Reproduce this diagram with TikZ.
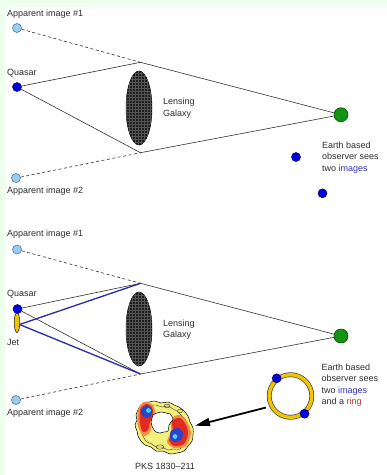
\documentclass[tikz,border=0pt]{standalone}
\usepackage{fontspec}
\setmainfont{Liberation Sans}
\usetikzlibrary{shapes.geometric,patterns,arrows.meta}

\definecolor{bgstrip}{HTML}{EEFFEE}
\definecolor{txt}{HTML}{2E2E2E}
\definecolor{skyfill}{HTML}{9CCCEE}
\definecolor{skyedge}{HTML}{4A7AAA}
\definecolor{qblue}{HTML}{0000DD}
\definecolor{earthgreen}{HTML}{129412}
\definecolor{jetblue}{HTML}{2A2AAA}
\definecolor{ringgold}{HTML}{F2C400}
\definecolor{wordblue}{HTML}{3434C4}
\definecolor{wordred}{HTML}{C03434}
\definecolor{pksyellow}{HTML}{F4F07C}
\definecolor{pksorange}{HTML}{F09040}
\definecolor{pksred}{HTML}{E02A22}
\definecolor{pksblue}{HTML}{3040C8}
\definecolor{pkscyan}{HTML}{3CD8F4}
\definecolor{galaxydark}{HTML}{1E1E1E}
\definecolor{galaxydot}{HTML}{555555}

\tikzset{
  annot/.style={font=\fontsize{9}{11.5}\selectfont, text=txt, inner sep=0pt,
                anchor=west, align=left},
  imgdot/.style={circle, minimum size=9pt, inner sep=0pt, fill=skyfill,
                 draw=skyedge, line width=0.6pt},
  qdot/.style={circle, minimum size=9pt, inner sep=0pt, fill=qblue,
               draw=blue!40!black, line width=0.5pt},
  earth/.style={circle, minimum size=14pt, inner sep=0pt, fill=earthgreen,
                draw=green!30!black, line width=0.6pt},
  galaxy/.style={ellipse, minimum width=26pt, minimum height=74pt, inner sep=0pt,
                 fill=galaxydark, draw=black, line width=0.5pt,
                 postaction={pattern=grid, pattern color=galaxydot}},
  jetshape/.style={ellipse, minimum width=5.5pt, minimum height=20pt, inner sep=0pt,
                   fill=ringgold, draw=black!70!brown, line width=0.6pt},
  sightline/.style={line width=0.6pt, black!80},
  dashline/.style={line width=0.6pt, black!80, dash pattern=on 3pt off 2.5pt},
  jetray/.style={line width=1.3pt, jetblue},
  contour/.style={line width=0.4pt, black!80},
}

\begin{document}
\begin{tikzpicture}[x=1pt,y=-1pt]
  % page and margin strips
  \useasboundingbox (0,0) rectangle (387,475);
  \fill[bgstrip] (0,0) rectangle (387,475);
  \fill[white] (5,7) rectangle (387,475);

  % ---------------- upper panel: two images ----------------
  \node[annot] at (7,14) {Apparent image \#1};
  \node[imgdot] (a1) at (17,28) {};
  \node[annot] at (7,73) {Quasar};
  \node[qdot] (q1) at (17,87) {};
  \node[imgdot] (b1) at (16,178) {};
  \node[annot] at (7,191) {Apparent image \#2};
  \coordinate (u1) at (140.5,62.3);
  \coordinate (l1) at (140.5,152.7);
  \node[galaxy] (g1) at (139,108) {};
  \node[annot] at (163,108) {Lensing\\Galaxy};
  \node[earth] (e1) at (341,114.7) {};
  \node[qdot] (s1) at (296,157) {};
  \node[qdot] (s2) at (322.5,193.3) {};
  \node[annot] at (322,157.5) {Earth based\\observer sees\\two \textcolor{wordblue}{images}};

  \draw[dashline] (a1) -- (u1);
  \draw[dashline] (b1) -- (l1);
  \draw[sightline] (q1) -- (u1) -- (e1);
  \draw[sightline] (q1) -- (l1) -- (e1);

  % ---------------- lower panel: images and a ring ----------------
  \node[annot] at (7,234) {Apparent image \#1};
  \node[imgdot] (a2) at (17,249.5) {};
  \node[annot] at (7,294) {Quasar};
  \node[jetshape] (jet) at (17,322.5) {};
  \node[qdot] (q2) at (17.5,309) {};
  \node[annot] at (7,342) {Jet};
  \coordinate (jp) at (19.5,324.5);
  \node[imgdot] (b2) at (16,400) {};
  \node[annot] at (7,413) {Apparent image \#2};
  \coordinate (u2) at (140.5,283.3);
  \coordinate (l2) at (140.5,374);
  \node[galaxy] (g2) at (139,329) {};
  \node[annot] at (163,329.5) {Lensing\\Galaxy};
  \node[earth] (e2) at (341,336) {};

  \draw[dashline] (a2) -- (u2);
  \draw[dashline] (b2) -- (l2);
  \draw[sightline] (q2) -- (u2) -- (e2);
  \draw[sightline] (q2) -- (l2) -- (e2);
  \draw[jetray] (jp) -- (u2);
  \draw[jetray] (jp) -- (l2);

  % Einstein ring seen by the observer
  \coordinate (ringc) at (290.5,396);
  \draw[black!75, line width=4.8pt] (ringc) circle (21.3);
  \draw[ringgold, line width=3.4pt] (ringc) circle (21.3);
  \node[qdot] (r1) at (276.7,378.3) {};
  \node[qdot] (r2) at (304.5,413.7) {};
  \node[annot] at (321.5,385) {Earth based\\observer sees\\two \textcolor{wordblue}{images}\\and a \textcolor{wordred}{ring}};

  % radio map of PKS 1830-211
  \begin{scope}[shift={(164,428)}]
    \draw[line width=0.5pt, fill=pksyellow]
      plot[smooth cycle, tension=0.6] coordinates {(-28,-13) (-25,-20) (-21,-25)
        (-15,-26) (-9,-27) (-3,-25) (4,-26) (10,-23) (15,-21) (19,-18)
        (24,-12) (26,-6) (29,0) (29,7) (28,13) (24,18) (20,23) (13,25)
        (6,26) (-1,23) (-8,23) (-13,19) (-19,17) (-23,13) (-26,8) (-27,3)
        (-29,-3) (-27,-8)};
    % inner contour loops
    \draw[contour]
      plot[smooth cycle, tension=0.6] coordinates {(-25,-11) (-22,-17) (-19,-22)
        (-13,-23) (-8,-23) (-2,-21) (4,-22) (9,-19) (13,-17) (17,-13)
        (21,-9) (23,-4) (25,1) (25,7) (24,12) (20,16) (16,21) (9,21) (4,22)
        (-2,19) (-8,19) (-12,16) (-17,14) (-20,10) (-22,6) (-23,2) (-26,-3)};
    \draw[contour] (-4,19) ellipse (4 and 2.2);
    \draw[contour] (3,-22) ellipse (3 and 1.8);
    \draw[contour] (16,-17) ellipse (2.5 and 1.8);
    % left lobe
    \fill[pksorange] plot[smooth cycle] coordinates {(-26,-18) (-20,-26)
      (-11,-23) (-9,-14) (-12,-5) (-14,4) (-20,8) (-26,-2)};
    \fill[pksred] plot[smooth cycle] coordinates {(-24,-18) (-18,-24)
      (-12,-21) (-11,-14) (-14,-6) (-16,2) (-21,4) (-24,-4)};
    \fill[pksblue] plot[smooth cycle] coordinates {(-23,-18) (-17,-23)
      (-12,-19) (-13,-12) (-18,-10) (-22,-13)};
    \fill[pkscyan] (-15.5,-17.5) circle (2.4);
    % right lobe
    \fill[pksorange] plot[smooth cycle] coordinates {(7,-9) (16,-13) (24,-5)
      (27,6) (22,18) (10,20) (3,14) (7,4)};
    \fill[pksred] plot[smooth cycle] coordinates {(8,-7) (16,-10) (22,-3)
      (24,6) (20,16) (10,18) (5,12) (9,4)};
    \fill[pksblue] plot[smooth cycle] coordinates {(7,3) (14,0) (19,5)
      (17,12) (10,14) (6,10)};
    \fill[pkscyan] (11,8.5) circle (2.4);
    % central hole
    \draw[line width=0.5pt, fill=white]
      plot[smooth cycle, tension=0.6] coordinates {(-11,-13) (-7,-15) (-3,-16)
        (2,-15) (6,-14) (9,-9) (7,-6) (5,-3) (4,3) (0,4) (-4,5) (-8,4)
        (-10,2) (-12,-2) (-13,-6) (-12,-10)};
  \end{scope}
  \coordinate (pkstip) at (195,425.7);
  \coordinate (arrtail) at (266,407.5);
  \draw[line width=1.8pt, -{Triangle[length=15pt,width=8pt]}] (arrtail) -- (pkstip);
  \node[annot, anchor=center] at (165,466) {PKS 1830–211};
\end{tikzpicture}
\end{document}
